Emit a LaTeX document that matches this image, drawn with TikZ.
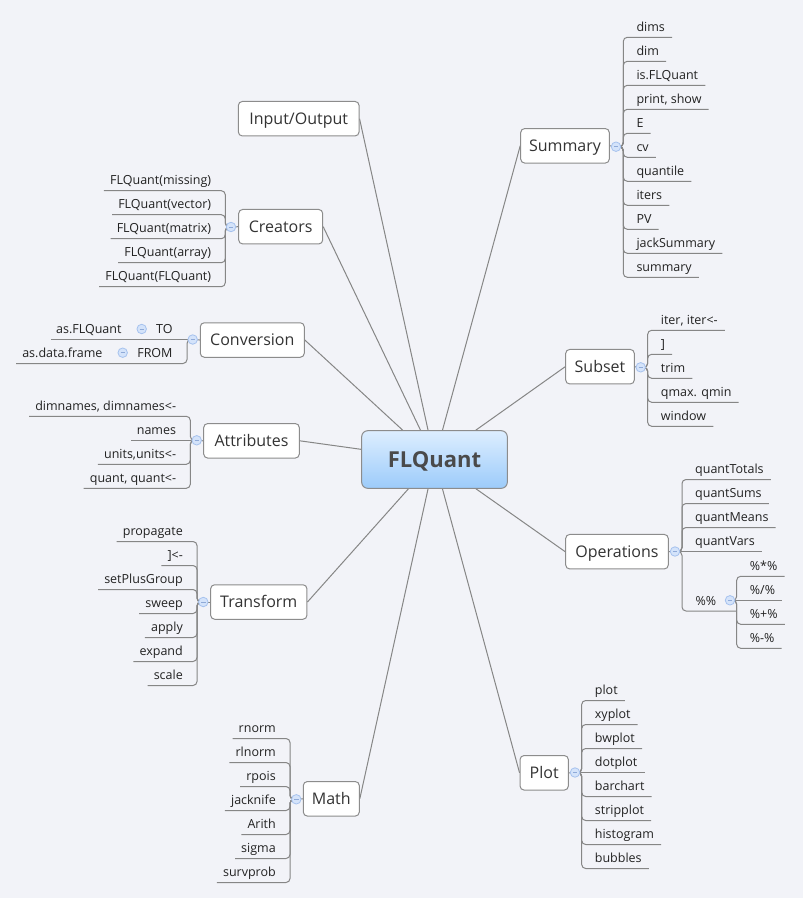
\documentclass[tikz,border=0pt]{standalone}
\usepackage{fontspec}
\setmainfont{Open Sans}
\usetikzlibrary{calc}
\definecolor{colbg}{HTML}{F2F3F8}
\definecolor{colln}{HTML}{868686}
\definecolor{colbd}{HTML}{8C8C8C}
\definecolor{colcf}{HTML}{D4E3FA}
\definecolor{colcb}{HTML}{A6C2EE}
\definecolor{colminus}{HTML}{8FAAD8}
\definecolor{coltt}{HTML}{333333}
\definecolor{collt}{HTML}{222222}
\definecolor{colct}{HTML}{4A4A4A}
\definecolor{colgtop}{HTML}{DDEEFF}
\definecolor{colgbot}{HTML}{9CCBFA}
\pgfdeclarelayer{bgl}
\pgfsetlayers{bgl,main}
% right-side item: name, circle, spine x, junction y, item y, text
\newcommand\ritem[6]{%
  \node[leaf,anchor=base west] (#1) at ({#3+13},{#5-6}) {#6};
  \begin{pgfonlayer}{bgl}\draw[branch] (#2.center) -- (#3,#4) -- (#3,#5) -- ($(#1.base east)+(7,6)$);\end{pgfonlayer}}
% right-side item on the junction level: name, circle, spine x, item y, text
\newcommand\ritemS[5]{%
  \node[leaf,anchor=base west] (#1) at ({#3+13},{#4-6}) {#5};
  \begin{pgfonlayer}{bgl}\draw[branch] (#2.center) -- ($(#1.base east)+(7,6)$);\end{pgfonlayer}}
% left-side item
\newcommand\litem[6]{%
  \node[leaf,anchor=base east] (#1) at ({#3-14},{#5-6}) {#6};
  \begin{pgfonlayer}{bgl}\draw[branch] (#2.center) -- (#3,#4) -- (#3,#5) -- ($(#1.base west)+(-6,6)$);\end{pgfonlayer}}
\newcommand\litemS[5]{%
  \node[leaf,anchor=base east] (#1) at ({#3-14},{#4-6}) {#5};
  \begin{pgfonlayer}{bgl}\draw[branch] (#2.center) -- ($(#1.base west)+(-6,6)$);\end{pgfonlayer}}
\begin{document}
\begin{tikzpicture}[x=1pt,y=-1pt,
  topic/.style={draw=colbd, line width=1pt, fill=white, rounded corners=4pt,
    minimum height=34.5pt, inner sep=0pt, text height=13.4pt, text depth=2pt,
    font=\fontsize{16}{18}\selectfont, text=coltt},
  leaf/.style={inner sep=0pt, font=\fontsize{12.5}{14}\selectfont, text=collt},
  branch/.style={draw=colln, line width=1pt, rounded corners=4pt},
  mainln/.style={draw=colln, line width=1pt},
  circ/.style={circle, draw=colcb, fill=colcf, line width=0.8pt, minimum size=9.5pt, inner sep=0pt,
    path picture={\draw[colminus, line width=0.7pt] ([xshift=-2.2pt]path picture bounding box.center) -- ([xshift=2.2pt]path picture bounding box.center);}},
]
\begin{pgfonlayer}{bgl}
\fill[colbg] (0,0) rectangle (803,898);
\end{pgfonlayer}
\useasboundingbox (0,0) rectangle (803,898);

% central topic
\node[draw=colbd, line width=1pt, rounded corners=6pt, top color=colgtop, bottom color=colgbot,
  minimum width=145.6pt, minimum height=57.6pt, inner sep=0pt, text height=17.7pt, text depth=2pt,
  font=\fontsize{22}{26}\selectfont\bfseries, text=colct] (FL) at (434.5,459.5) {FLQuant};

% main topics
\node[topic, minimum width=120.7pt] (IO) at (298.7,118.7) {Input/Output};
\node[topic, minimum width=88.6pt] (Sum) at (565,145.8) {Summary};
\node[topic, minimum width=84pt] (Cre) at (280.7,226.7) {Creators};
\node[topic, minimum width=104pt] (Conv) at (252.3,340) {Conversion};
\node[topic, minimum width=68.6pt] (Sub) at (600,366.7) {Subset};
\node[topic, minimum width=95.6pt] (Att) at (251.5,440.8) {Attributes};
\node[topic, minimum width=102.6pt] (Ops) at (617,551.7) {Operations};
\node[topic, minimum width=96.3pt] (Tra) at (258.8,602) {Transform};
\node[topic, minimum width=48.3pt] (Plot) at (544.2,772.8) {Plot};
\node[topic, minimum width=56pt] (Math) at (331.3,798.8) {Math};

% collapse circles
\node[circ] (cSum) at (616,146.7) {};
\node[circ] (cCre) at (231,227) {};
\node[circ] (cConv) at (192.7,339.5) {};
\node[circ] (cSub) at (640.7,367.3) {};
\node[circ] (cAtt) at (196.7,440.3) {};
\node[circ] (cOps) at (675,551.5) {};
\node[circ] (cPP) at (730,600.3) {};
\node[circ] (cTra) at (203.3,602) {};
\node[circ] (cPlot) at (575,772.5) {};
\node[circ] (cMath) at (296.3,799.3) {};
\node[circ] (cTO) at (141.7,329) {};
\node[circ] (cFROM) at (122.7,352.7) {};

% connectors from the centre
\begin{pgfonlayer}{bgl}
\draw[mainln] (FL) -- (IO.east);
\draw[mainln] (FL) -- (Sum.west);
\draw[mainln] (FL) -- (Cre.east);
\draw[mainln] (FL) -- (Conv.east);
\draw[mainln] (FL) -- (Sub.west);
\draw[mainln] (FL) -- (Att.east);
\draw[mainln] (FL) -- (Ops.west);
\draw[mainln] (FL) -- (Tra.east);
\draw[mainln] (FL) -- (Plot.west);
\draw[mainln] (FL) -- (Math.east);
\draw[mainln] (Sum.east) -- (cSum.center);
\draw[mainln] (Cre.west) -- (cCre.center);
\draw[mainln] (Conv.west) -- (cConv.center);
\draw[mainln] (Sub.east) -- (cSub.center);
\draw[mainln] (Att.west) -- (cAtt.center);
\draw[mainln] (Ops.east) -- (cOps.center);
\draw[mainln] (Tra.west) -- (cTra.center);
\draw[mainln] (Plot.east) -- (cPlot.center);
\draw[mainln] (Math.west) -- (cMath.center);
\end{pgfonlayer}

% Summary
\ritem{s1}{cSum}{623.3}{146.7}{37.3}{dims}
\ritem{s2}{cSum}{623.3}{146.7}{61.3}{dim}
\ritem{s3}{cSum}{623.3}{146.7}{85.3}{is.FLQuant}
\ritem{s4}{cSum}{623.3}{146.7}{109.3}{print, show}
\ritem{s5}{cSum}{623.3}{146.7}{133.3}{E}
\ritem{s6}{cSum}{623.3}{146.7}{157.3}{cv}
\ritem{s7}{cSum}{623.3}{146.7}{181.3}{quantile}
\ritem{s8}{cSum}{623.3}{146.7}{205.3}{iters}
\ritem{s9}{cSum}{623.3}{146.7}{229.3}{PV}
\ritem{s10}{cSum}{623.3}{146.7}{253.3}{jackSummary}
\ritem{s11}{cSum}{623.3}{146.7}{277.3}{summary}

% Subset
\ritem{u1}{cSub}{647.7}{367.3}{330.3}{iter, iter<-}
\ritem{u2}{cSub}{647.7}{367.3}{354.3}{]}
\ritem{u3}{cSub}{647.7}{367.3}{378.3}{trim}
\ritem{u4}{cSub}{647.7}{367.3}{402.3}{qmax. qmin}
\ritem{u5}{cSub}{647.7}{367.3}{426.3}{window}

% Operations
\ritem{o1}{cOps}{682}{551.5}{479.5}{quantTotals}
\ritem{o2}{cOps}{682}{551.5}{503.5}{quantSums}
\ritem{o3}{cOps}{682}{551.5}{527.5}{quantMeans}
\ritemS{o4}{cOps}{682}{551.5}{quantVars}
\node[leaf,anchor=base west] (o5) at (695.3,605) {\%\%};
\coordinate (o5end) at (736.7,611);
\begin{pgfonlayer}{bgl}\draw[branch] (cOps.center) -- (682,551.5) -- (682,611) -- (o5end);\end{pgfonlayer}
\ritem{p1}{cPP}{736.7}{600.3}{576.3}{\%*\%}
\ritemS{p2}{cPP}{736.7}{600.3}{\%/\%}
\ritem{p3}{cPP}{736.7}{600.3}{624.3}{\%+\%}
\ritem{p4}{cPP}{736.7}{600.3}{648.3}{\%-\%}

% Plot
\ritem{q1}{cPlot}{581.7}{772.5}{700.5}{plot}
\ritem{q2}{cPlot}{581.7}{772.5}{724.5}{xyplot}
\ritem{q3}{cPlot}{581.7}{772.5}{748.5}{bwplot}
\ritemS{q4}{cPlot}{581.7}{772.5}{dotplot}
\ritem{q5}{cPlot}{581.7}{772.5}{796.5}{barchart}
\ritem{q6}{cPlot}{581.7}{772.5}{820.5}{stripplot}
\ritem{q7}{cPlot}{581.7}{772.5}{844.5}{histogram}
\ritem{q8}{cPlot}{581.7}{772.5}{868.5}{bubbles}

% Creators
\litem{c1}{cCre}{225.3}{227}{190.7}{FLQuant(missing)}
\litem{c2}{cCre}{225.3}{227}{214.7}{FLQuant(vector)}
\litem{c3}{cCre}{225.3}{227}{238.7}{FLQuant(matrix)}
\litem{c4}{cCre}{225.3}{227}{262.7}{FLQuant(array)}
\litem{c5}{cCre}{225.3}{227}{286.7}{FLQuant(FLQuant)}

% Conversion
\node[leaf,anchor=base east] (TO) at (172.7,333.5) {TO};
\node[leaf,anchor=base east] (asFLQ) at (121.7,333.5) {as.FLQuant};
\node[leaf,anchor=base east] (FROM) at (172.7,357.5) {FROM};
\node[leaf,anchor=base east] (asDF) at (102.7,357.5) {as.data.frame};
\begin{pgfonlayer}{bgl}
\draw[branch] (cConv.center) -- ($(asFLQ.base west)+(-5,6)$);
\draw[branch] (cConv.center) -- (187,339.5) -- (187,363.5) -- ($(asDF.base west)+(-6,6)$);
\end{pgfonlayer}

% Attributes
\litem{a1}{cAtt}{190.3}{440.3}{416.3}{dimnames, dimnames<-}
\litemS{a2}{cAtt}{190.3}{440.3}{names}
\litem{a3}{cAtt}{190.3}{440.3}{464.3}{units,units<-}
\litem{a4}{cAtt}{190.3}{440.3}{488.3}{quant, quant<-}

% Transform
\litem{t1}{cTra}{197}{602}{541.5}{propagate}
\litem{t2}{cTra}{197}{602}{565.5}{]<-}
\litem{t3}{cTra}{197}{602}{589.5}{setPlusGroup}
\litem{t4}{cTra}{197}{602}{613.5}{sweep}
\litem{t5}{cTra}{197}{602}{637.5}{apply}
\litem{t6}{cTra}{197}{602}{661.5}{expand}
\litem{t7}{cTra}{197}{602}{685.5}{scale}

% Math
\litem{m1}{cMath}{290}{799.3}{738.5}{rnorm}
\litem{m2}{cMath}{290}{799.3}{762.5}{rlnorm}
\litem{m3}{cMath}{290}{799.3}{786.5}{rpois}
\litem{m4}{cMath}{290}{799.3}{810.5}{jacknife}
\litem{m5}{cMath}{290}{799.3}{834.5}{Arith}
\litem{m6}{cMath}{290}{799.3}{858.5}{sigma}
\litem{m7}{cMath}{290}{799.3}{882.5}{survprob}
\end{tikzpicture}
\end{document}
